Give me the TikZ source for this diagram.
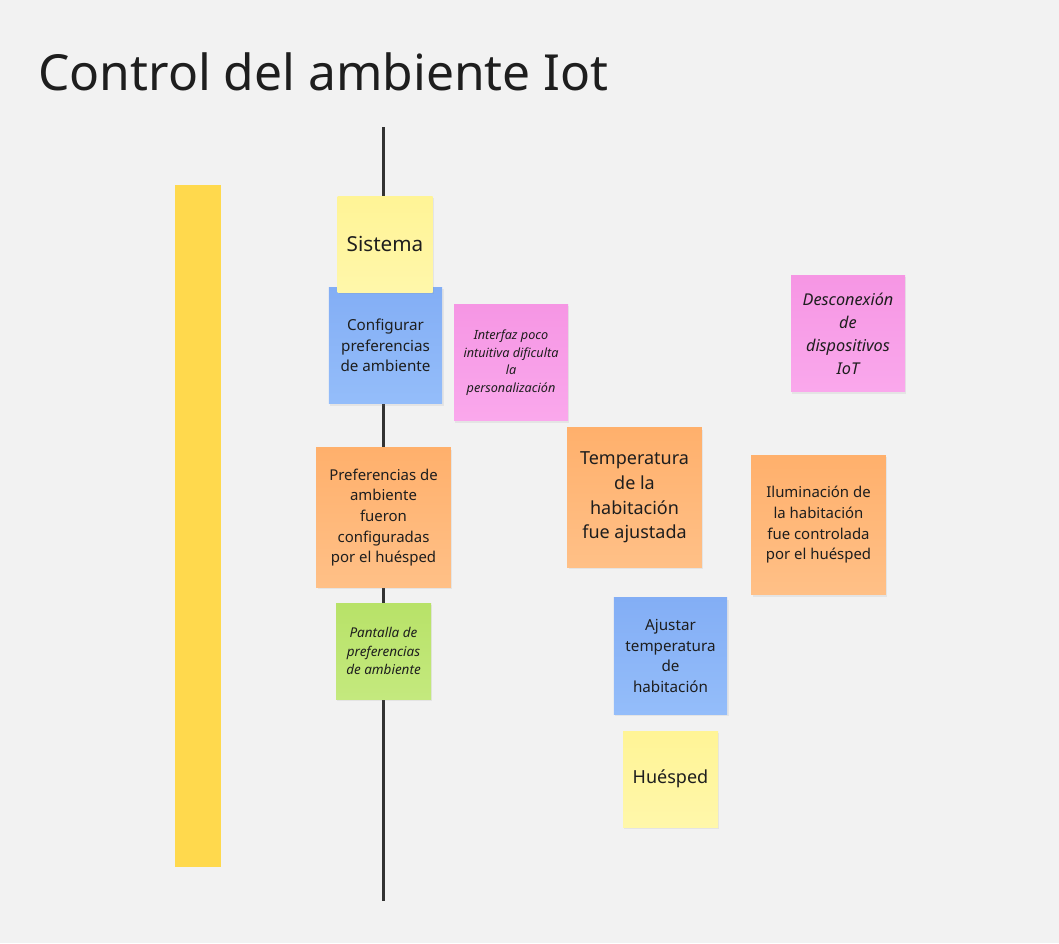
\documentclass[tikz,border=0pt]{standalone}
\usepackage{fontspec}
\setmainfont{Noto Sans}
\usepackage{xcolor}
\usetikzlibrary{shadows}
\definecolor{canvas}{RGB}{242, 242, 242}
\definecolor{ink}{RGB}{30, 30, 30}
\definecolor{rail}{RGB}{51, 51, 51}
\definecolor{lane}{RGB}{255, 217, 77}
\definecolor{paleyellow}{RGB}{255, 244, 150}
\definecolor{paleyellowlo}{RGB}{255, 247, 170}
\definecolor{bluenote}{RGB}{131, 174, 245}
\definecolor{bluenotelo}{RGB}{148, 189, 250}
\definecolor{pinknote}{RGB}{246, 150, 228}
\definecolor{pinknotelo}{RGB}{250, 168, 236}
\definecolor{orangenote}{RGB}{255, 176, 108}
\definecolor{orangenotelo}{RGB}{255, 192, 135}
\definecolor{greennote}{RGB}{184, 226, 104}
\definecolor{greennotelo}{RGB}{196, 233, 126}

\begin{document}
\begin{tikzpicture}[
    x=0.75pt, y=-0.75pt,
    note/.style={rectangle, inner sep=3pt, align=center, text=ink,
        drop shadow={opacity=0.12, shadow xshift=1pt, shadow yshift=-1.5pt}},
    actor/.style={note, top color=paleyellow, bottom color=paleyellowlo, minimum width=71.25pt, minimum height=72pt},
    command/.style={note, top color=bluenote, bottom color=bluenotelo, minimum width=85pt, minimum height=87.5pt, font=\fontsize{11.4}{15.5}\selectfont},
    hotspot/.style={note, top color=pinknote, bottom color=pinknotelo, minimum width=85.5pt, minimum height=87.5pt},
    event/.style={note, top color=orangenote, bottom color=orangenotelo, minimum width=101pt, minimum height=104.5pt},
    readmodel/.style={note, top color=greennote, bottom color=greennotelo, minimum width=71.25pt, minimum height=72pt, font=\itshape\fontsize{10.1}{14.2}\selectfont},
    timeline/.style={line width=2.25pt, color=rail}
]
    \fill[canvas] (0,0) rectangle (1059,943);
    \useasboundingbox (0,0) rectangle (1059,943);

    \node[anchor=base west, text=ink, inner sep=0pt, font=\fontsize{37.3}{45}\selectfont] (title) at (38,90) {Control del ambiente Iot};

    \fill[lane] (175,185) rectangle (221,867);

    \coordinate (railtop) at (383,127);
    \coordinate (railbot) at (383,901);
    \draw[timeline] (railtop) -- (railbot);

    \node[command] (configurar) at (385.5,345.5) {Configurar\\preferencias\\de ambiente};
    \node[actor, font=\fontsize{15.5}{18}\selectfont] (sistema) at (385,244) {Sistema};

    \node[hotspot, font=\itshape\fontsize{9.5}{13.1}\selectfont] (interfaz) at (511,362.5) {Interfaz poco\\intuitiva dificulta\\la\\personalización};
    \node[hotspot, font=\itshape\fontsize{12.2}{17.3}\selectfont] (desconexion) at (848,333.5) {Desconexión\\de\\dispositivos\\IoT};

    \node[event, font=\fontsize{11.2}{15.5}\selectfont] (preferencias) at (383.5,517.5) {Preferencias de\\ambiente\\fueron\\configuradas\\por el huésped};
    \node[event, font=\fontsize{13.5}{18.4}\selectfont] (temperatura) at (634.5,497.5) {Temperatura\\de la\\habitación\\fue ajustada};
    \node[event, font=\fontsize{11.2}{15.5}\selectfont] (iluminacion) at (818.5,525) {Iluminación de\\la habitación\\fue controlada\\por el huésped};

    \node[readmodel] (pantalla) at (383.5,651) {Pantalla de\\preferencias\\de ambiente};

    \node[command] (ajustar) at (670.5,656) {Ajustar\\temperatura\\de\\habitación};
    \node[actor, font=\fontsize{13.5}{16}\selectfont] (huesped) at (670.5,779) {Huésped};
\end{tikzpicture}
\end{document}
